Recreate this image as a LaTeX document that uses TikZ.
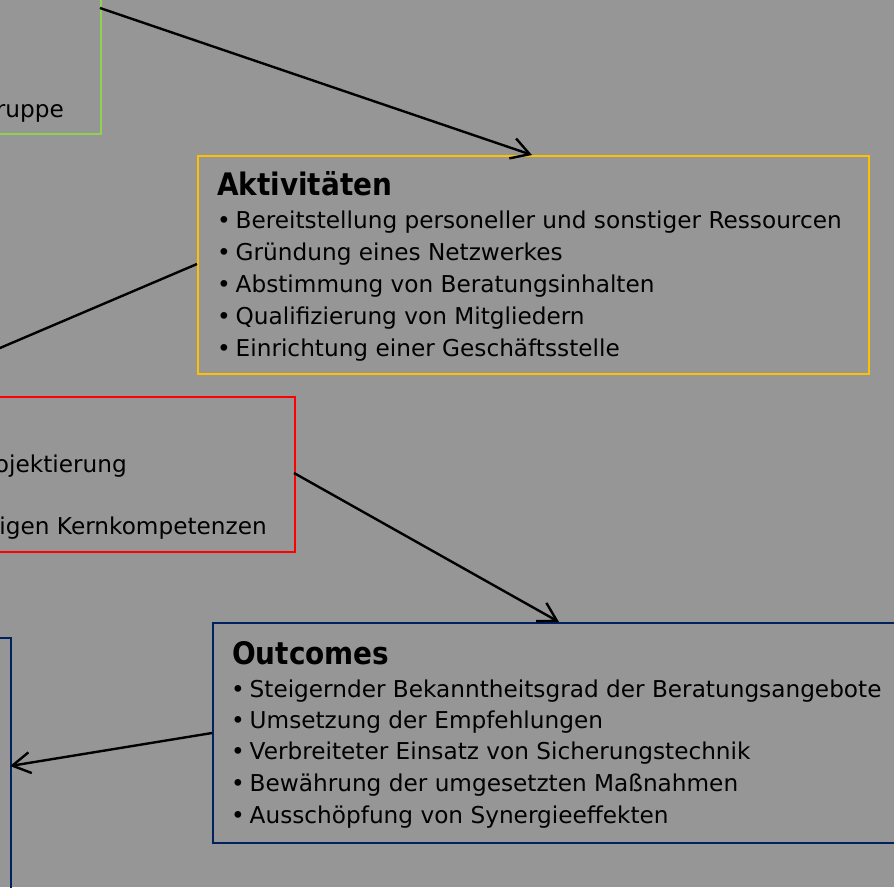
\documentclass[tikz,border=0pt]{standalone}
\usepackage{fontspec}
\setmainfont{DejaVu Sans}
\newfontfamily\condfont{DejaVu Sans Condensed}
\usetikzlibrary{arrows.meta}
\definecolor{bg}{HTML}{969696}
\definecolor{cgreen}{HTML}{92D050}
\definecolor{corange}{HTML}{FFC000}
\definecolor{cred}{HTML}{FF0000}
\definecolor{cblue}{HTML}{002060}
\newcommand{\bul}{\makebox[18.5pt][l]{•}}
\tikzset{
  box/.style={draw, line width=2pt, anchor=north west, inner sep=0pt, fill=none},
  conn/.style={line width=2.4pt, black},
  arr/.style={conn, -{Straight Barb[length=18pt,width=21pt,line width=2.4pt]}},
  title/.style={anchor=base west, inner sep=0pt, font=\condfont\fontsize{31}{36}\selectfont\bfseries},
  item/.style={anchor=base west, inner sep=0pt, font=\fontsize{23.2}{30}\selectfont},
  itemr/.style={anchor=base east, inner sep=0pt, font=\fontsize{23.2}{30}\selectfont}
}
\begin{document}
\begin{tikzpicture}[x=1pt,y=-1pt]
\useasboundingbox (0,0) rectangle (894,887);
\clip (0,0) rectangle (894,887);
\fill[bg] (0,0) rectangle (894,887);

% boxes
\node[box, draw=cgreen, minimum width=160pt, minimum height=193pt] (green) at (-60,-60) {};
\node[box, draw=corange, minimum width=671pt, minimum height=218pt] (akt) at (197,155) {};
\node[box, draw=cred, minimum width=354pt, minimum height=155pt] (red) at (-60,396) {};
\node[box, draw=cblue, minimum width=700pt, minimum height=220pt] (out) at (212,622) {};
\node[box, draw=cblue, minimum width=70pt, minimum height=300pt] (blue) at (-60,637) {};

% texts
\node[itemr] (gt) at (64,117) {ruppe};
\node[itemr] (rt1) at (127,472) {ojektierung};
\node[itemr] (rt2) at (267,534) {igen Kernkompetenzen};

\node[title] (aktt) at (217,195) {Aktivitäten};
\node[item] (a1) at (217,228) {\bul Bereitstellung personeller und sonstiger Ressourcen};
\node[item] (a2) at (217,260) {\bul Gründung eines Netzwerkes};
\node[item] (a3) at (217,292) {\bul Abstimmung von Beratungsinhalten};
\node[item] (a4) at (217,324) {\bul Qualifizierung von Mitgliedern};
\node[item] (a5) at (217,356) {\bul Einrichtung einer Geschäftsstelle};

\node[title] (outt) at (232,664) {Outcomes};
\node[item] (o1) at (231,697.5) {\bul Steigernder Bekanntheitsgrad der Beratungsangebote};
\node[item] (o2) at (231,728) {\bul Umsetzung der Empfehlungen};
\node[item] (o3) at (231,759) {\bul Verbreiteter Einsatz von Sicherungstechnik};
\node[item] (o4) at (231,791.5) {\bul Bewährung der umgesetzten Maßnahmen};
\node[item] (o5) at (231,823.5) {\bul Ausschöpfung von Synergieeffekten};

% connector end points
\coordinate (gA) at (100,8);
\coordinate (aT) at (532,155);
\coordinate (aL) at (197,264);
\coordinate (offL) at (-20,356.5);
\coordinate (rR) at (294,473);
\coordinate (oT) at (559,622);
\coordinate (oL) at (212,733);
\coordinate (bR) at (10,766);

\draw[arr] (gA) -- (aT);
\draw[conn] (aL) -- (offL);
\draw[arr] (rR) -- (oT);
\draw[arr] (oL) -- (bR);
\end{tikzpicture}
\end{document}
